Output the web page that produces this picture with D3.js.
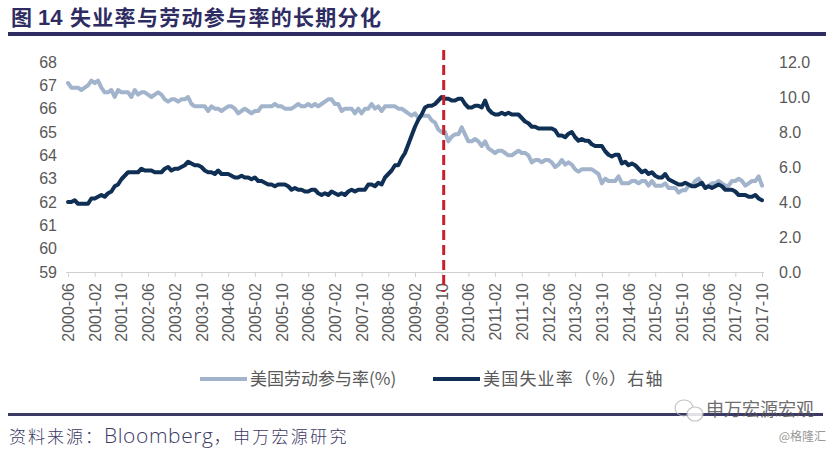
<!DOCTYPE html>
<html><head><meta charset="utf-8">
<script src="https://cdn.jsdelivr.net/npm/d3@7/dist/d3.min.js"></script>
<style>
html,body{margin:0;padding:0;background:#fff;}
svg{display:block;}
</style></head>
<body>
<svg id="chart" width="833" height="450"></svg>
<script>
// ---------- DATA ----------
const startMonth = "2000-06";
const monthCount = 209; // 2000-06 .. 2017-10
const tickLabels = ["2000-06","2001-02","2001-10","2002-06","2003-02","2003-10","2004-06","2005-02","2005-10","2006-06","2007-02","2007-10","2008-06","2009-02","2009-10","2010-06","2011-02","2011-10","2012-06","2013-02","2013-10","2014-06","2015-02","2015-10","2016-06","2017-02","2017-10"];
const markerMonth = "2009-10";
const leftTicks = [59,60,61,62,63,64,65,66,67,68];
const rightTicks = [0,2,4,6,8,10,12];
const seriesNames = ["美国劳动参与率(%)", "美国失业率（%）右轴"];

// US labour force participation rate (%), monthly, 2000-06 .. 2017-10
const participation = [
 67.1,66.9,66.9,66.9,66.8,66.9,67.0,
 67.2,67.1,67.2,66.9,66.7,66.7,66.8,66.5,66.8,66.7,66.7,66.7,
 66.5,66.8,66.6,66.7,66.7,66.6,66.5,66.6,66.7,66.6,66.4,66.3,
 66.4,66.4,66.3,66.4,66.4,66.5,66.2,66.1,66.1,66.1,66.1,65.9,
 66.1,66.0,66.0,65.9,66.0,66.1,66.1,66.0,65.8,65.9,66.0,65.9,
 65.8,65.9,65.9,66.1,66.1,66.1,66.1,66.2,66.1,66.1,66.0,66.0,
 66.0,66.1,66.2,66.1,66.1,66.2,66.1,66.2,66.1,66.2,66.3,66.4,
 66.4,66.2,66.2,65.9,66.0,66.0,66.0,65.8,66.0,65.8,66.0,66.0,
 66.2,66.0,66.1,65.9,66.1,66.1,66.1,66.1,66.0,66.0,65.9,65.8,
 65.7,65.8,65.6,65.7,65.7,65.7,65.5,65.4,65.1,65.0,65.0,64.6,
 64.8,64.9,64.9,65.2,64.9,64.6,64.6,64.7,64.6,64.4,64.6,64.3,
 64.2,64.1,64.2,64.2,64.1,64.0,64.0,64.1,64.2,64.1,64.1,64.0,
 63.7,63.8,63.8,63.7,63.8,63.8,63.7,63.5,63.6,63.8,63.6,63.7,
 63.6,63.4,63.3,63.4,63.4,63.4,63.4,63.3,63.2,62.8,63.0,62.9,
 62.9,62.9,63.1,62.8,62.8,62.8,62.9,62.9,62.8,62.9,62.9,62.7,
 62.9,62.7,62.7,62.7,62.8,62.6,62.6,62.6,62.4,62.5,62.5,62.7,
 62.7,62.9,63.0,62.8,62.6,62.7,62.8,62.8,62.9,62.8,62.7,62.7,
 62.9,62.9,63.0,62.9,62.7,62.8,62.9,62.9,63.1,62.7
];

// US unemployment rate (%), monthly, 2000-06 .. 2017-10 (right axis)
const unemployment = [
 4.0,4.0,4.1,3.9,3.9,3.9,3.9,
 4.2,4.2,4.3,4.4,4.3,4.5,4.6,4.9,5.0,5.3,5.5,5.7,
 5.7,5.7,5.7,5.9,5.8,5.8,5.8,5.7,5.7,5.7,5.9,6.0,
 5.8,5.9,5.9,6.0,6.1,6.3,6.2,6.1,6.1,6.0,5.8,5.7,
 5.7,5.6,5.8,5.6,5.6,5.6,5.5,5.4,5.4,5.5,5.4,5.4,
 5.3,5.4,5.2,5.2,5.1,5.0,5.0,4.9,5.0,5.0,5.0,4.9,
 4.7,4.8,4.7,4.7,4.6,4.6,4.7,4.7,4.5,4.4,4.5,4.4,
 4.6,4.5,4.4,4.5,4.4,4.6,4.7,4.6,4.7,4.7,4.7,5.0,
 5.0,4.9,5.1,5.0,5.4,5.6,5.8,6.1,6.1,6.5,6.8,7.3,
 7.8,8.3,8.7,9.0,9.4,9.5,9.5,9.6,9.8,10.0,9.9,9.9,
 9.8,9.8,9.9,9.9,9.6,9.4,9.4,9.5,9.5,9.4,9.8,9.3,
 9.1,9.0,9.0,9.1,9.0,9.1,9.0,9.0,9.0,8.8,8.6,8.5,
 8.3,8.3,8.2,8.2,8.2,8.2,8.2,8.1,7.8,7.8,7.7,7.9,
 8.0,7.7,7.5,7.6,7.5,7.5,7.3,7.2,7.2,7.2,6.9,6.7,
 6.6,6.7,6.7,6.2,6.3,6.1,6.2,6.1,5.9,5.7,5.8,5.6,
 5.7,5.5,5.4,5.4,5.6,5.3,5.2,5.1,5.0,5.0,5.1,5.0,
 4.9,4.9,5.0,5.1,4.8,4.9,4.8,4.9,5.0,4.9,4.7,4.7,
 4.7,4.6,4.4,4.4,4.4,4.3,4.3,4.4,4.2,4.1
];

// month categories
const categories = (function(){
  const out=[]; let y=+startMonth.slice(0,4), m=+startMonth.slice(5,7);
  for(let i=0;i<monthCount;i++){
    out.push(y+"-"+String(m).padStart(2,"0"));
    m++; if(m>12){m=1;y++;}
  }
  return out;
})();

// ---------- STYLE ----------
const navy = "#2e2c62";
const lightColor = "#a2b4cb";
const darkColor = "#0f2f55";
const axisText = "#595959";
const numFont = "'Liberation Sans', Arial, sans-serif";
const cjkFont = "'Noto Sans CJK SC', 'Noto Sans', sans-serif";

const svg = d3.select("#chart");

// ---------- SCALES ----------
const x = d3.scalePoint().domain(categories).range([68, 762]);
const yL = d3.scaleLinear().domain([59, 68]).range([272, 62]);
const yR = d3.scaleLinear().domain([0, 12]).range([272, 62]);

// ---------- TITLE ----------
const title = svg.append("text").attr("y", 25).attr("fill", navy)
  .style("font-family", cjkFont).style("font-weight", "bold").style("font-size", "21px");
title.append("tspan").attr("x", 11).text("图");
title.append("tspan").attr("x", 38).style("font-family", numFont).style("font-size","22px").text("14");
title.append("tspan").attr("x", 70).style("letter-spacing","1.3px").text("失业率与劳动参与率的长期分化");
svg.append("rect").attr("x", 8).attr("y", 32).attr("width", 818).attr("height", 4).attr("fill", navy);

// ---------- AXES ----------
const xAxis = d3.axisBottom(x).tickValues(tickLabels).tickSize(5).tickSizeOuter(0).tickPadding(6);
const gx = svg.append("g").attr("transform", "translate(0,272)").call(xAxis);
gx.select(".domain").attr("stroke", "#d0d0d0").attr("d", "M66,0.5H764");
gx.selectAll(".tick line").attr("stroke", "#d0d0d0");
gx.selectAll(".tick text")
  .attr("fill", axisText)
  .style("font-family", numFont).style("font-size", "16px")
  .attr("transform", "rotate(-90)")
  .attr("text-anchor", "end")
  .attr("x", -11).attr("y", 0).attr("dy", "0.35em");

const gl = svg.append("g").attr("transform", "translate(57,0)")
  .call(d3.axisLeft(yL).tickValues(leftTicks).tickSize(0).tickPadding(0).tickFormat(d3.format("d")));
gl.select(".domain").remove();
gl.selectAll("text").attr("fill", axisText).style("font-family", numFont).style("font-size", "16px");

const gr = svg.append("g").attr("transform", "translate(779,0)")
  .call(d3.axisRight(yR).tickValues(rightTicks).tickSize(0).tickPadding(0).tickFormat(d3.format(".1f")));
gr.select(".domain").remove();
gr.selectAll("text").attr("fill", axisText).style("font-family", numFont).style("font-size", "16px");

// ---------- LINES ----------
const lineL = d3.line().x((d,i)=>x(categories[i])).y(d=>yL(d)).curve(d3.curveLinear);
const lineR = d3.line().x((d,i)=>x(categories[i])).y(d=>yR(d)).curve(d3.curveLinear);

svg.append("path").datum(participation).attr("d", lineL)
  .attr("fill","none").attr("stroke", lightColor).attr("stroke-width", 4)
  .attr("stroke-linejoin","round").attr("stroke-linecap","round");
svg.append("path").datum(unemployment).attr("d", lineR)
  .attr("fill","none").attr("stroke", darkColor).attr("stroke-width", 4)
  .attr("stroke-linejoin","round").attr("stroke-linecap","round");

// marker dashed line
svg.append("line")
  .attr("x1", x(markerMonth)+2).attr("x2", x(markerMonth)+2)
  .attr("y1", 50).attr("y2", 292)
  .attr("stroke", "#c8202a").attr("stroke-width", 3).attr("stroke-dasharray", "10,5");

// ---------- LEGEND ----------
const legend = svg.append("g").style("font-family", cjkFont).style("font-size", "17px");
legend.append("line").attr("x1",200).attr("x2",247).attr("y1",379).attr("y2",379)
  .attr("stroke", lightColor).attr("stroke-width", 4);
legend.append("text").attr("x",250).attr("y",379).attr("dy","0.35em").attr("fill", axisText).text(seriesNames[0]);
legend.append("line").attr("x1",433).attr("x2",480).attr("y1",379).attr("y2",379)
  .attr("stroke", darkColor).attr("stroke-width", 4);
legend.append("text").attr("x",483).attr("y",379).attr("dy","0.35em").attr("fill", axisText)
  .style("letter-spacing","1.2px").text(seriesNames[1]);

// ---------- FOOTER ----------
svg.append("rect").attr("x", 8).attr("y", 413).attr("width", 815).attr("height", 3).attr("fill", "#3b3966");
const src = svg.append("text").attr("x", 9).attr("y", 443).attr("fill", "#3b3966")
  .style("font-family", cjkFont).style("font-size", "17px").style("font-weight","300");
src.append("tspan").style("letter-spacing","2px").text("资料来源：");
src.append("tspan").style("font-family","'Open Sans', sans-serif").style("font-size","21px").style("letter-spacing","0.6px").text("Bloomberg");
src.append("tspan").style("letter-spacing","2.3px").text("，申万宏源研究");

// watermark
const wm = svg.append("g").attr("opacity", 0.85);
wm.append("ellipse").attr("cx", 684).attr("cy", 408).attr("rx", 9).attr("ry", 8)
  .attr("fill","none").attr("stroke","#bbb").attr("stroke-width",1.2);
wm.append("ellipse").attr("cx", 695).attr("cy", 414).attr("rx", 8).attr("ry", 7)
  .attr("fill","#fff").attr("stroke","#bbb").attr("stroke-width",1.2);
wm.append("text").attr("x", 706).attr("y", 416).attr("fill", "#555")
  .style("font-family", cjkFont).style("font-size", "18px").text("申万宏源宏观");
svg.append("text").attr("x", 826).attr("y", 441).attr("text-anchor","end").attr("fill", "#999")
  .style("font-family", cjkFont).style("font-size", "12px").text("@格隆汇");
</script>
</body></html>
